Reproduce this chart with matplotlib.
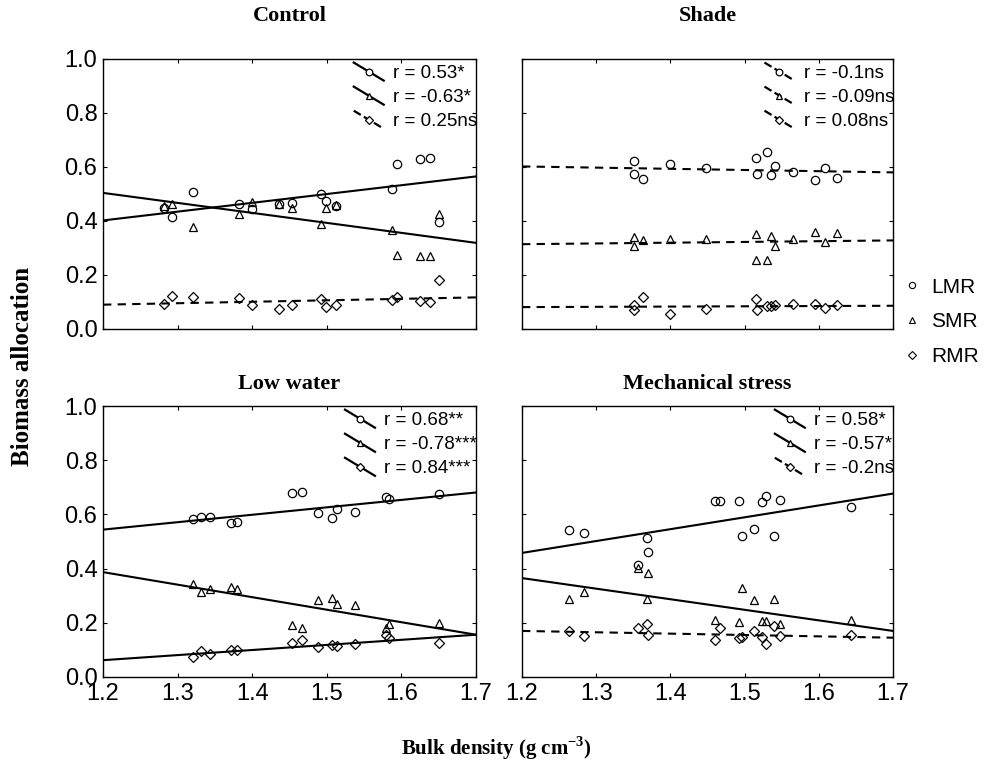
import matplotlib
matplotlib.use("Agg")
import matplotlib.pyplot as plt
import numpy as np
from matplotlib.legend_handler import HandlerBase
from matplotlib.lines import Line2D

plt.rcParams["font.family"] = ["Liberation Sans", "DejaVu Sans"]
plt.rcParams["mathtext.fontset"] = "custom"
plt.rcParams["mathtext.bf"] = "Liberation Serif:bold"
plt.rcParams["mathtext.rm"] = "Liberation Serif"

# bulk density (x) and allocation ratios per treatment
control_x = [1.282, 1.293, 1.321, 1.382, 1.400, 1.436, 1.453, 1.492, 1.499, 1.512,
             1.587, 1.594, 1.625, 1.639, 1.650]
control_lmr = [0.448, 0.414, 0.507, 0.463, 0.444, 0.464, 0.467, 0.499, 0.473, 0.454,
               0.520, 0.611, 0.630, 0.632, 0.395]
control_smr = [0.457, 0.463, 0.378, 0.426, 0.470, 0.463, 0.448, 0.390, 0.448, 0.460,
               0.368, 0.273, 0.269, 0.269, 0.426]
control_rmr = [0.094, 0.123, 0.117, 0.114, 0.088, 0.074, 0.089, 0.111, 0.081, 0.089,
               0.109, 0.117, 0.102, 0.099, 0.183]

shade_x = [1.351, 1.351, 1.363, 1.400, 1.448, 1.516, 1.530, 1.517, 1.541, 1.535,
           1.565, 1.595, 1.608, 1.625]
shade_lmr = [0.623, 0.574, 0.556, 0.611, 0.595, 0.633, 0.657, 0.575, 0.602, 0.569,
             0.580, 0.552, 0.598, 0.559]
shade_smr_x = [1.351, 1.351, 1.363, 1.400, 1.448, 1.516, 1.516, 1.530, 1.535, 1.541,
               1.565, 1.595, 1.608, 1.625]
shade_smr = [0.341, 0.306, 0.328, 0.333, 0.335, 0.353, 0.257, 0.257, 0.343, 0.306,
             0.333, 0.360, 0.322, 0.354]
shade_rmr_x = [1.351, 1.351, 1.363, 1.400, 1.448, 1.516, 1.517, 1.530, 1.535, 1.541,
               1.565, 1.595, 1.608, 1.625]
shade_rmr = [0.089, 0.072, 0.117, 0.057, 0.074, 0.111, 0.069, 0.084, 0.085, 0.090,
             0.093, 0.093, 0.077, 0.089]

water_x = [1.320, 1.332, 1.344, 1.371, 1.379, 1.453, 1.467, 1.488, 1.507, 1.514,
           1.538, 1.579, 1.584, 1.650]
water_lmr = [0.583, 0.589, 0.589, 0.569, 0.571, 0.680, 0.682, 0.606, 0.585, 0.619,
             0.610, 0.663, 0.656, 0.676]
water_smr = [0.342, 0.312, 0.324, 0.331, 0.326, 0.191, 0.179, 0.283, 0.293, 0.268,
             0.264, 0.179, 0.197, 0.200]
water_rmr = [0.074, 0.096, 0.084, 0.101, 0.101, 0.126, 0.138, 0.111, 0.119, 0.113,
             0.123, 0.156, 0.145, 0.127]

mech_lmr_x = [1.263, 1.284, 1.369, 1.370, 1.356, 1.460, 1.467, 1.492, 1.523, 1.529,
              1.548, 1.497, 1.513, 1.539, 1.644]
mech_lmr = [0.541, 0.533, 0.512, 0.461, 0.414, 0.649, 0.649, 0.649, 0.645, 0.667,
            0.653, 0.521, 0.548, 0.521, 0.627]
mech_smr_x = [1.263, 1.284, 1.369, 1.370, 1.356, 1.460, 1.492, 1.497, 1.513, 1.523,
              1.529, 1.539, 1.548, 1.644]
mech_smr = [0.289, 0.314, 0.288, 0.384, 0.404, 0.212, 0.203, 0.329, 0.283, 0.207,
            0.207, 0.289, 0.195, 0.212]
mech_rmr_x = [1.263, 1.284, 1.356, 1.369, 1.370, 1.460, 1.467, 1.492, 1.497, 1.513,
              1.523, 1.529, 1.539, 1.548, 1.644]
mech_rmr = [0.169, 0.150, 0.182, 0.197, 0.154, 0.138, 0.181, 0.144, 0.148, 0.169,
            0.148, 0.121, 0.187, 0.150, 0.156]

# fitted line values at x = 1.2 and x = 1.7 (LMR, SMR, RMR)
control_fit = [(0.402, 0.565), (0.504, 0.319), (0.090, 0.117)]
shade_fit = [(0.602, 0.580), (0.314, 0.328), (0.081, 0.086)]
water_fit = [(0.544, 0.681), (0.387, 0.156), (0.062, 0.156)]
mech_fit = [(0.458, 0.677), (0.365, 0.170), (0.170, 0.145)]

control_r = ["r = 0.53*", "r = -0.63*", "r = 0.25ns"]
shade_r = ["r = -0.1ns", "r = -0.09ns", "r = 0.08ns"]
water_r = ["r = 0.68**", "r = -0.78***", "r = 0.84***"]
mech_r = ["r = 0.58*", "r = -0.57*", "r = -0.2ns"]

fit_x = [1.2, 1.7]
markers = ["o", "^", "D"]
marker_sizes = [6, 6, 5]
series_names = ["LMR", "SMR", "RMR"]
serif = ["Liberation Serif", "DejaVu Serif"]


class SlantHandler(HandlerBase):
    # legend key drawn as a short falling line with the marker in the middle
    def create_artists(self, legend, orig_handle, xdescent, ydescent,
                       width, height, fontsize, trans):
        x0, x1 = -xdescent, -xdescent + width
        yc = -ydescent + height / 2
        line = Line2D([x0, x1], [yc + 6.5, yc - 6.5], color="black",
                      lw=orig_handle.get_linewidth(), ls=orig_handle.get_linestyle())
        mark = Line2D([(x0 + x1) / 2], [yc], ls="none",
                      marker=orig_handle.get_marker(),
                      ms=orig_handle.get_markersize() * 0.8,
                      mfc="white", mec="black", mew=0.9)
        line.set_transform(trans)
        mark.set_transform(trans)
        return [line, mark]


def draw_panel(ax, title, xs, ys, fits, rlabels, sig, title_pad):
    handles = []
    for i in range(3):
        ax.plot(xs[i], ys[i], ls="none", marker=markers[i], ms=marker_sizes[i],
                mfc="none", mec="black", mew=0.9)
        ls = "-" if sig[i] else (0, (4, 3))
        ax.plot(fit_x, fits[i], color="black", lw=1.5, ls=ls)
        handles.append(Line2D([], [], color="black", lw=1.6, ls=ls,
                              marker=markers[i], ms=marker_sizes[i]))
    ax.legend(handles, rlabels, loc="upper right", frameon=False, fontsize=13.5,
              handlelength=1.6, handletextpad=0.5, labelspacing=0.37,
              borderaxespad=0, borderpad=0.25, bbox_to_anchor=(1.016, 0.995),
              handler_map={Line2D: SlantHandler()})
    ax.set_xlim(1.2, 1.7)
    ax.set_ylim(0, 1.0)
    ax.set_xticks([1.2, 1.3, 1.4, 1.5, 1.6, 1.7])
    ax.set_yticks([0.0, 0.2, 0.4, 0.6, 0.8, 1.0])
    ax.xaxis.set_major_formatter(plt.FormatStrFormatter("%.1f"))
    ax.yaxis.set_major_formatter(plt.FormatStrFormatter("%.1f"))
    ax.tick_params(direction="in", length=3, width=0.8, top=True, right=True,
                   labelsize=17, pad=4)
    for sp in ax.spines.values():
        sp.set_linewidth(1.0)
    ax.set_title(title, fontsize=16, fontweight="bold", family=serif, pad=title_pad)


fig = plt.figure(figsize=(9.84, 7.61), dpi=100)
ax_tl = fig.add_axes([0.1047, 0.5677, 0.379, 0.3548])
ax_tr = fig.add_axes([0.5305, 0.5677, 0.377, 0.3548])
ax_bl = fig.add_axes([0.1047, 0.1104, 0.379, 0.356])
ax_br = fig.add_axes([0.5305, 0.1104, 0.377, 0.356])

draw_panel(ax_tl, "Control", [control_x] * 3,
           [control_lmr, control_smr, control_rmr], control_fit, control_r,
           [True, True, False], 27)
draw_panel(ax_tr, "Shade", [shade_x, shade_smr_x, shade_rmr_x],
           [shade_lmr, shade_smr, shade_rmr], shade_fit, shade_r,
           [False, False, False], 27)
draw_panel(ax_bl, "Low water", [water_x] * 3,
           [water_lmr, water_smr, water_rmr], water_fit, water_r,
           [True, True, True], 12)
draw_panel(ax_br, "Mechanical stress", [mech_lmr_x, mech_smr_x, mech_rmr_x],
           [mech_lmr, mech_smr, mech_rmr], mech_fit, mech_r,
           [True, True, False], 12)

ax_tl.tick_params(labelbottom=False)
ax_tr.tick_params(labelbottom=False, labelleft=False)
ax_br.tick_params(labelleft=False)

# shared legend on the right
key = [Line2D([], [], ls="none", marker=m, ms=s * 0.75, mfc="none", mec="black",
              mew=0.8) for m, s in zip(markers, marker_sizes)]
fig.legend(key, series_names, loc="center left", bbox_to_anchor=(0.906, 0.577),
           frameon=False, fontsize=15, handlelength=0.6, handletextpad=0.6,
           labelspacing=0.75, borderpad=0.2)

fig.text(0.023, 0.518, "Biomass allocation", rotation=90, ha="center", va="center",
         fontsize=18, fontweight="bold", family=serif)
fig.text(0.505, 0.017, "Bulk density (g cm$^{\\mathbf{-3}}$)", ha="center", va="center",
         fontsize=15, fontweight="bold", family=serif)

fig.savefig("out.png", dpi=100)
